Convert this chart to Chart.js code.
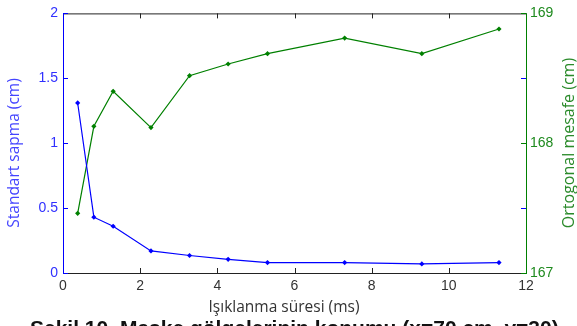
<!DOCTYPE html>
<html>
<head>
<meta charset="utf-8">
<script src="https://cdn.jsdelivr.net/npm/chart.js@4.4.1/dist/chart.umd.min.js"></script>
<style>
  body { margin: 0; background: #fff; }
  canvas { display: block; }
</style>
</head>
<body>
<canvas id="sapmaChart" width="577" height="326"></canvas>
<script>
// exposure time (ms) for each measurement
const sure = [0.38, 0.8, 1.3, 2.28, 3.28, 4.28, 5.3, 7.3, 9.3, 11.3];
// standard deviation (cm), left axis
const sapma = [1.31, 0.43, 0.36, 0.17, 0.135, 0.105, 0.08, 0.08, 0.07, 0.08];
// orthogonal distance (cm), right axis
const mesafe = [167.46, 168.13, 168.4, 168.12, 168.52, 168.61, 168.69, 168.81, 168.69, 168.88];

const xTicks = [0, 2, 4, 6, 8, 10, 12];
const leftTicks = [0, 0.5, 1, 1.5, 2];
const rightTicks = [167, 168, 169];

const BLUE = "#0000ff";
const GREEN = "#008000";
const tickFont = { family: "'Liberation Sans', Arial, sans-serif", size: 14 };

// frame, inward tick marks, axis titles and caption (matlab style box)
const frame = {
  id: "frame",
  afterDraw(chart) {
    const { ctx, chartArea: a, scales } = chart;
    const x = scales.x, y = scales.y, y1 = scales.y1;
    const tl = 5;
    ctx.save();
    ctx.lineWidth = 1;

    ctx.strokeStyle = "#222";
    ctx.beginPath();
    ctx.moveTo(a.left, a.top + 0.5); ctx.lineTo(a.right, a.top + 0.5);
    ctx.moveTo(a.left, a.bottom + 0.5); ctx.lineTo(a.right, a.bottom + 0.5);
    xTicks.forEach(v => {
      const px = Math.round(x.getPixelForValue(v)) + 0.5;
      ctx.moveTo(px, a.bottom); ctx.lineTo(px, a.bottom - tl);
      ctx.moveTo(px, a.top); ctx.lineTo(px, a.top + tl);
    });
    ctx.stroke();

    ctx.strokeStyle = BLUE;
    ctx.beginPath();
    ctx.moveTo(a.left + 0.5, a.top); ctx.lineTo(a.left + 0.5, a.bottom + 1);
    leftTicks.forEach(v => {
      const py = Math.round(y.getPixelForValue(v)) + 0.5;
      ctx.moveTo(a.left, py); ctx.lineTo(a.left + tl, py);
      ctx.moveTo(a.right, py); ctx.lineTo(a.right - tl, py);
    });
    ctx.stroke();

    ctx.strokeStyle = GREEN;
    ctx.beginPath();
    ctx.moveTo(a.right + 0.5, a.top); ctx.lineTo(a.right + 0.5, a.bottom + 1);
    rightTicks.forEach(v => {
      const py = Math.round(y1.getPixelForValue(v)) + 0.5;
      ctx.moveTo(a.right, py); ctx.lineTo(a.right - tl, py);
    });
    ctx.stroke();

    // axis titles
    ctx.textAlign = "center";
    ctx.textBaseline = "middle";

    ctx.font = "15.5px 'Open Sans', sans-serif";
    ctx.fillStyle = "#4444ff";
    ctx.save();
    ctx.translate(15, 153);
    ctx.rotate(-Math.PI / 2);
    ctx.fillText("Standart sapma (cm)", 0, 0);
    ctx.restore();

    ctx.font = "16px 'Open Sans', sans-serif";
    ctx.fillStyle = "#2a8a2a";
    ctx.save();
    ctx.translate(569, 143);
    ctx.rotate(-Math.PI / 2);
    ctx.fillText("Ortogonal mesafe (cm)", 0, 0);
    ctx.restore();

    ctx.font = "15.5px 'Open Sans', sans-serif";
    ctx.fillStyle = "#333";
    ctx.fillText("Işıklanma süresi (ms)", 284, 308);

    // figure caption, runs off the bottom edge
    ctx.fillStyle = "#111";
    ctx.font = "bold 21px 'Liberation Sans', Arial, sans-serif";
    ctx.textAlign = "left";
    ctx.textBaseline = "top";
    ctx.fillText("Şekil 10. Maske gölgelerinin konumu (x=70 cm, y=30)", 30, 319);
    ctx.restore();
  }
};

const data = {
  datasets: [
    {
      label: "Standart sapma",
      data: sure.map((t, i) => ({ x: t, y: sapma[i] })),
      yAxisID: "y",
      borderColor: BLUE,
      backgroundColor: BLUE,
      borderWidth: 1.2,
      pointStyle: "rectRot",
      pointRadius: 2.6,
      pointBorderWidth: 0,
    },
    {
      label: "Ortogonal mesafe",
      data: sure.map((t, i) => ({ x: t, y: mesafe[i] })),
      yAxisID: "y1",
      borderColor: GREEN,
      backgroundColor: GREEN,
      borderWidth: 1.2,
      pointStyle: "rectRot",
      pointRadius: 2.6,
      pointBorderWidth: 0,
    },
  ],
};

const config = {
  type: "line",
  data: data,
  options: {
    responsive: false,
    animation: false,
    layout: { padding: { top: 11, left: 0, right: 0, bottom: 0 } },
    plugins: {
      legend: { display: false },
      tooltip: { enabled: false },
    },
    scales: {
      x: {
        type: "linear",
        min: 0,
        max: 12,
        grid: { display: false, drawTicks: false },
        border: { display: false },
        ticks: {
          stepSize: 2,
          padding: 5,
          color: "#333",
          font: tickFont,
          maxRotation: 0,
        },
        afterFit: s => { s.height = 53; },
      },
      y: {
        position: "left",
        min: 0,
        max: 2,
        grid: { display: false, drawTicks: false },
        border: { display: false },
        ticks: {
          stepSize: 0.5,
          padding: 5,
          color: "#3030ff",
          font: tickFont,
          callback: v => String(v),
        },
        afterFit: s => { s.width = 63; },
      },
      y1: {
        position: "right",
        min: 167,
        max: 169,
        grid: { display: false, drawTicks: false },
        border: { display: false },
        ticks: { stepSize: 1, padding: 4, color: "#1e8a1e", font: tickFont },
        afterFit: s => { s.width = 51; },
      },
    },
  },
  plugins: [frame],
};

new Chart(document.getElementById("sapmaChart"), config);
</script>
</body>
</html>
